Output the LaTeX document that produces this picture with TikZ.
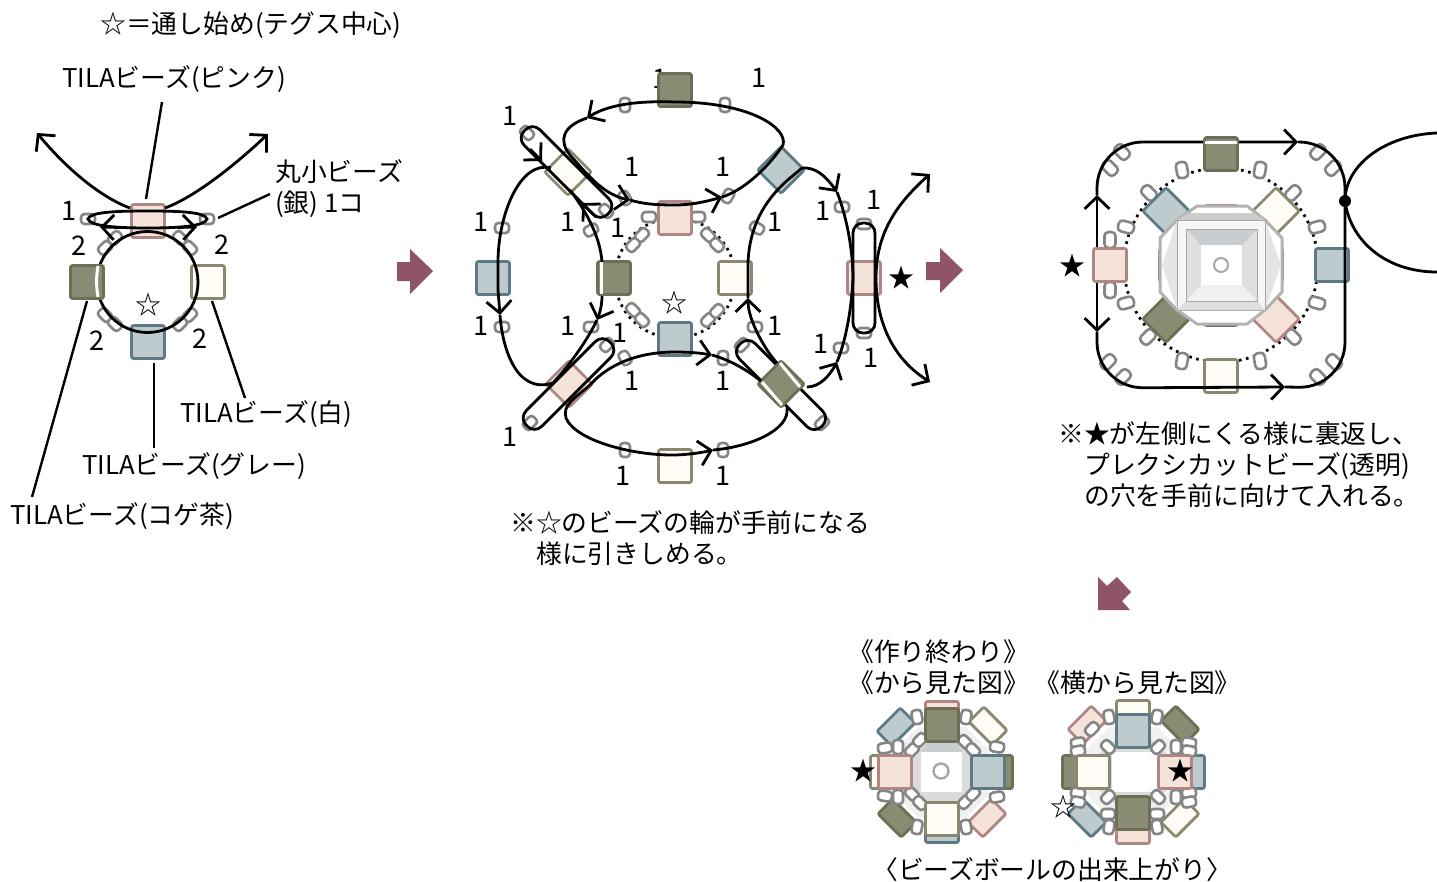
\documentclass[tikz,border=0pt]{standalone}
\usepackage{fontspec}
\setmainfont{Noto Sans CJK JP}
\usetikzlibrary{arrows.meta}
\definecolor{pinkfill}{HTML}{F5E3DA}
\definecolor{pinkline}{HTML}{AE8783}
\definecolor{olivefill}{HTML}{8A8B73}
\definecolor{oliveline}{HTML}{6C6E56}
\definecolor{whitefill}{HTML}{FFFDF5}
\definecolor{whiteline}{HTML}{8A8870}
\definecolor{greyfill}{HTML}{BDCACE}
\definecolor{greyline}{HTML}{5D7A84}
\definecolor{mauve}{HTML}{8F5468}
\definecolor{beadline}{HTML}{858585}
\tikzset{
tila/.style={rectangle, rounded corners=2pt, minimum size=33pt, inner sep=0pt, line width=2.7pt},
tilapink/.style={tila, fill=pinkfill, draw=pinkline},
tilaolive/.style={tila, fill=olivefill, draw=oliveline},
tilawhite/.style={tila, fill=whitefill, draw=whiteline},
tilagrey/.style={tila, fill=greyfill, draw=greyline},
flat/.style={minimum width=33pt, minimum height=21pt},
bead/.style={rectangle, rounded corners=3.5pt, minimum width=14pt, minimum height=10pt, inner sep=0pt, fill=white, draw=beadline, line width=2.6pt},
beadbig/.style={bead, minimum width=16pt, minimum height=11pt, rounded corners=4pt},
thread/.style={line width=2.8pt, black},
capsule/.style={rectangle, rounded corners=10pt, minimum height=22pt, inner sep=0pt, draw=black, line width=2.8pt},
dots/.style={line width=2.8pt, black, dash pattern=on 2.6pt off 4.6pt},
leader/.style={line width=2.4pt, black},
sheen/.style={line width=3pt, white},
label/.style={inner sep=0pt, anchor=west, align=left, yshift=-1.5pt, font=\fontsize{25.8}{31}\selectfont},
num/.style={inner sep=0pt, font=\fontsize{27}{30}\selectfont},
star/.style={inner sep=0pt, font=\fontsize{26}{30}\selectfont},
block/.style={fill=mauve, draw=none},
>={Straight Barb[length=12pt,width=25pt,line width=2.8pt]}
}
\begin{document}
\begin{tikzpicture}
\useasboundingbox (0pt, 0pt) rectangle (1437pt, -881pt);
% left: first ring
\node (tlstart) [label] at (100pt, -24pt) {☆＝通し始め(テグス中心)};
\node (tlpink) [label] at (62pt, -78pt) {TILAビーズ(ピンク)};
\node (tlsilver) [label] at (275pt, -187pt) {丸小ビーズ\\(銀) 1コ};
\node (tlwhite) [label] at (180pt, -413pt) {TILAビーズ(白)};
\node (tlgrey) [label] at (82pt, -465pt) {TILAビーズ(グレー)};
\node (tlolive) [label] at (10pt, -515pt) {TILAビーズ(コゲ茶)};
\node (a1) [num] at (69pt, -211pt) {1};
\node (a2) [num] at (79pt, -246pt) {2};
\node (a3) [num] at (222pt, -245pt) {2};
\node (a4) [num] at (97pt, -341pt) {2};
\node (a5) [num] at (200pt, -339pt) {2};
\node (astar) [star] at (148pt, -305pt) {☆};
\node (ab1) [bead, rotate=45] at (115pt, -238pt) {};
\node (ab2) [bead, rotate=45] at (105pt, -248pt) {};
\node (ab3) [bead, rotate=-45] at (180pt, -238pt) {};
\node (ab4) [bead, rotate=-45] at (190pt, -248pt) {};
\node (ab5) [bead, rotate=-45] at (105pt, -315pt) {};
\node (ab6) [bead, rotate=-45] at (115pt, -324pt) {};
\node (ab7) [bead, rotate=45] at (190pt, -315pt) {};
\node (ab8) [bead, rotate=45] at (180pt, -324pt) {};
\node (ab9) [bead] at (88pt, -219pt) {};
\node (ab10) [bead] at (207pt, -219pt) {};
\node (apink) [tilapink] at (148pt, -221pt) {};
\node (agrey) [tilagrey] at (148pt, -342pt) {};
\node (awhite) [tilawhite] at (208pt, -282pt) {};
\draw [thread] (147.5pt, -282pt) circle (50.5pt);
\node (aolive) [tilaolive] at (87pt, -282pt) {};
\draw [sheen] (98pt, -266pt) to [bend right=9] (98pt, -297pt);
\coordinate (ltip) at (37pt, -133pt);
\coordinate (rtip) at (268pt, -134pt);
\coordinate (lstart) at (130pt, -208pt);
\coordinate (rstart) at (165pt, -208pt);
\coordinate (lloop) at (100pt, -227pt);
\coordinate (rloop) at (197pt, -227pt);
\draw [thread, ->] (lstart) .. controls (100pt, -197pt) and (66pt, -168pt) .. (ltip);
\draw [thread, ->] (rstart) .. controls (195pt, -197pt) and (235pt, -165pt) .. (rtip);
\draw [thread] (148pt, -211pt) .. controls (180pt, -211pt) and (205pt, -212pt) .. (ab10.center) .. controls (205pt, -226pt) and (180pt, -228pt) .. (148pt, -228pt) .. controls (115pt, -228pt) and (90pt, -226pt) .. (ab9.center) .. controls (90pt, -212pt) and (115pt, -211pt) .. cycle;
\draw [thread, ->] (120pt, -227.5pt) -- (lloop);
\draw [thread, ->] (177pt, -227.5pt) -- (rloop);
\coordinate (ldpink) at (162pt, -102pt);
\coordinate (ldpinkb) at (146pt, -199pt);
\coordinate (ldsilver) at (270pt, -194pt);
\coordinate (ldsilverb) at (218pt, -218pt);
\coordinate (ldwhite) at (212pt, -301pt);
\coordinate (ldwhiteb) at (245pt, -398pt);
\coordinate (ldgrey) at (154pt, -363pt);
\coordinate (ldgreyb) at (154pt, -448pt);
\coordinate (ldolive) at (87pt, -301pt);
\coordinate (ldoliveb) at (32pt, -497pt);
\draw [leader] (ldpink) -- (ldpinkb);
\draw [leader] (ldsilver) -- (ldsilverb);
\draw [leader] (ldwhite) -- (ldwhiteb);
\draw [leader] (ldgrey) -- (ldgreyb);
\draw [leader] (ldolive) -- (ldoliveb);
\path [block] (397pt, -262pt) -- (410pt, -262pt) -- (410pt, -249pt) -- (433pt, -271pt) -- (410pt, -294pt) -- (410pt, -281pt) -- (397pt, -281pt) -- cycle;
% middle: two crossings
\node (b1) [num] at (660pt, -79pt) {1};
\node (b2) [num] at (759pt, -78pt) {1};
\node (b3) [num] at (510pt, -116pt) {1};
\node (b4) [num] at (632pt, -167pt) {1};
\node (b5) [num] at (723pt, -167pt) {1};
\node (b6) [num] at (481pt, -222pt) {1};
\node (b7) [num] at (568pt, -222pt) {1};
\node (b8) [num] at (618pt, -228pt) {1};
\node (b9) [num] at (775pt, -222pt) {1};
\node (b10) [num] at (823pt, -211pt) {1};
\node (b11) [num] at (874pt, -200pt) {1};
\node (b12) [num] at (481pt, -326pt) {1};
\node (b13) [num] at (568pt, -326pt) {1};
\node (b14) [num] at (620pt, -333pt) {1};
\node (b15) [num] at (775pt, -326pt) {1};
\node (b16) [num] at (821pt, -344pt) {1};
\node (b17) [num] at (871pt, -358pt) {1};
\node (b18) [num] at (510pt, -437pt) {1};
\node (b19) [num] at (632pt, -381pt) {1};
\node (b20) [num] at (723pt, -381pt) {1};
\node (b21) [num] at (623pt, -476pt) {1};
\node (b22) [num] at (723pt, -476pt) {1};
\node (bstar) [star] at (674pt, -303pt) {☆};
\node (bstarb) [star] at (901pt, -278pt) {★};
\node (tlpull) [label] at (510pt, -537pt) {※☆のビーズの輪が手前になる\\\hspace*{26pt}様に引きしめる。};
\draw [dots] (675pt, -278pt) circle (60pt);
\node (bb1) [bead, rotate=90] at (625pt, -105pt) {};
\node (bb2) [bead, rotate=90] at (725pt, -105pt) {};
\node (bb3) [bead, rotate=-45] at (527pt, -133pt) {};
\node (bb4) [bead, rotate=-45] at (606pt, -211pt) {};
\node (bb5) [bead, rotate=-60] at (625pt, -198pt) {};
\node (bb6) [bead, rotate=60] at (728pt, -196pt) {};
\node (bb7) [bead] at (502pt, -228pt) {};
\node (bb8) [bead, rotate=30] at (591pt, -230pt) {};
\node (bb9) [bead, rotate=-30] at (757pt, -228pt) {};
\node (bb10) [bead] at (842pt, -207pt) {};
\node (bb11) [bead] at (864pt, -224pt) {};
\node (bb12) [bead] at (649pt, -217pt) {};
\node (bb13) [bead] at (698pt, -217pt) {};
\node (bb14) [bead, rotate=45] at (642pt, -235pt) {};
\node (bb15) [bead, rotate=45] at (633pt, -245pt) {};
\node (bb16) [bead, rotate=-45] at (708pt, -235pt) {};
\node (bb17) [bead, rotate=-45] at (717pt, -245pt) {};
\node (bb18) [bead, rotate=-45] at (633pt, -310pt) {};
\node (bb19) [bead, rotate=-45] at (642pt, -320pt) {};
\node (bb20) [bead, rotate=45] at (708pt, -320pt) {};
\node (bb21) [bead, rotate=45] at (717pt, -311pt) {};
\node (bb22) [bead] at (502pt, -327pt) {};
\node (bb23) [bead] at (591pt, -327pt) {};
\node (bb24) [bead, rotate=45] at (607pt, -345pt) {};
\node (bb25) [bead, rotate=45] at (530pt, -423pt) {};
\node (bb26) [bead, rotate=-60] at (625pt, -358pt) {};
\node (bb27) [bead, rotate=90] at (723pt, -358pt) {};
\node (bb28) [bead] at (755pt, -327pt) {};
\node (bb29) [bead, rotate=45] at (742pt, -345pt) {};
\node (bb30) [bead] at (841pt, -348pt) {};
\node (bb31) [bead] at (864pt, -333pt) {};
\node (bb32) [bead, rotate=45] at (822pt, -423pt) {};
\node (bb33) [bead, rotate=90] at (625pt, -450pt) {};
\node (bb34) [bead, rotate=90] at (723pt, -450pt) {};
\node (btop) [tilaolive] at (675pt, -90pt) {};
\node (bcpink) [tilapink] at (675pt, -218pt) {};
\node (bcolive) [tilaolive] at (614pt, -278pt) {};
\node (bcwhite) [tilawhite] at (735pt, -278pt) {};
\node (bcgrey) [tilagrey] at (675pt, -339pt) {};
\node (bleft) [tilagrey] at (493pt, -278pt) {};
\node (bright) [tilapink] at (864pt, -278pt) {};
\node (bbot) [tilawhite] at (675pt, -466pt) {};
\node (bulwhite) [tilawhite, rotate=45] at (568pt, -172pt) {};
\node (bllpink) [tilapink, rotate=45] at (569pt, -384pt) {};
\node (burgrey) [tilagrey, rotate=45] at (781pt, -170pt) {};
\node (capul) [capsule, rotate=-45, minimum width=118pt] at (566.5pt, -172pt) {};
\node (capll) [capsule, rotate=45, minimum width=118pt] at (568.5pt, -384pt) {};
\node (caplr) [capsule, rotate=-45, minimum width=116pt] at (781pt, -385pt) {};
\node (capr) [capsule, rotate=90, minimum width=110pt] at (864pt, -278pt) {};
\node (blrolive) [tilaolive, rotate=45] at (781pt, -384pt) {};
\draw [sheen] (762pt, -382pt) -- (782pt, -405pt);
\draw [sheen] (780pt, -363pt) -- (800pt, -387pt);
\draw [sheen] (601pt, -262pt) -- (601pt, -294pt);
\coordinate (tipa) at (587pt, -118pt);
\coordinate (tipb) at (630pt, -200pt);
\coordinate (tipc) at (722pt, -197pt);
\coordinate (tipd) at (837pt, -192pt);
\coordinate (tipe) at (748pt, -298pt);
\coordinate (tipf) at (837pt, -362pt);
\coordinate (tipg) at (712pt, -355pt);
\coordinate (tiph) at (713pt, -450pt);
\coordinate (tipi) at (597pt, -320pt);
\coordinate (tipj) at (500pt, -315pt);
\coordinate (tipk) at (542pt, -161pt);
\coordinate (tipl) at (582pt, -203pt);
\coordinate (tipm) at (930pt, -174pt);
\coordinate (tipn) at (930pt, -382pt);
% top loop
\draw [thread, ->] (675pt, -205pt) .. controls (690pt, -205pt) and (705pt, -202pt) .. (tipc);
\draw [thread] (tipc) .. controls (745pt, -190pt) and (770pt, -165pt) .. (783pt, -145pt) .. controls (788pt, -128pt) and (750pt, -102pt) .. (675pt, -102pt);
\draw [thread, ->] (675pt, -102pt) .. controls (650pt, -101pt) and (612pt, -102pt) .. (tipa);
\draw [thread, ->] (tipa) .. controls (563pt, -126pt) and (558pt, -140pt) .. (570pt, -155pt) .. controls (590pt, -178pt) and (605pt, -195pt) .. (tipb);
\draw [thread] (tipb) .. controls (640pt, -203pt) and (650pt, -205pt) .. (675pt, -205pt);
% left arcs
\draw [thread] (498pt, -290pt) -- (498pt, -262pt) .. controls (498pt, -215pt) and (520pt, -160pt) .. (551pt, -168pt);
\draw [thread, ->] (530pt, -149pt) -- (tipk);
\draw [thread, ->] (596pt, -217pt) -- (tipl);
\draw [thread] (570pt, -190pt) .. controls (585pt, -210pt) and (600pt, -235pt) .. (602pt, -262pt);
\draw [thread, ->] (602pt, -296pt) .. controls (602pt, -305pt) and (600pt, -312pt) .. (tipi);
\draw [thread] (tipi) .. controls (585pt, -345pt) and (565pt, -370pt) .. (553pt, -383pt);
\draw [thread, ->] (498pt, -290pt) -- (tipj);
\draw [thread] (tipj) .. controls (502pt, -345pt) and (515pt, -395pt) .. (553pt, -383pt);
% bottom loop
\draw [thread, ->] (675pt, -352pt) .. controls (690pt, -352pt) and (700pt, -353pt) .. (tipg);
\draw [thread] (tipg) .. controls (730pt, -360pt) and (747pt, -370pt) .. (761pt, -381pt);
\draw [thread] (675pt, -352pt) .. controls (630pt, -352pt) and (603pt, -370pt) .. (590pt, -385pt) .. controls (575pt, -398pt) and (562pt, -405pt) .. (566pt, -418pt) .. controls (575pt, -440pt) and (630pt, -455pt) .. (672pt, -455pt);
\draw [thread, ->] (672pt, -455pt) .. controls (685pt, -455pt) and (700pt, -453pt) .. (tiph);
\draw [thread] (tiph) .. controls (750pt, -447pt) and (790pt, -430pt) .. (787pt, -408pt);
% right arcs
\draw [thread, ->] (807pt, -387pt) .. controls (820pt, -387pt) and (830pt, -375pt) .. (tipf);
\draw [thread] (tipf) .. controls (848pt, -335pt) and (852pt, -300pt) .. (853pt, -278pt) .. controls (853pt, -255pt) and (848pt, -220pt) .. (tipd);
\draw [thread, <-] (tipd) .. controls (825pt, -175pt) and (815pt, -167pt) .. (802pt, -168pt);
\draw [thread] (802pt, -168pt) -- (790pt, -178pt) .. controls (770pt, -195pt) and (750pt, -220pt) .. (748pt, -262pt) -- (tipe);
\draw [thread, <-] (tipe) .. controls (748pt, -320pt) and (765pt, -350pt) .. (777pt, -363pt);
\draw [thread, ->] (876pt, -278pt) .. controls (876pt, -235pt) and (895pt, -205pt) .. (tipm);
\draw [thread, ->] (876pt, -278pt) .. controls (876pt, -325pt) and (895pt, -360pt) .. (tipn);
\path [block] (926pt, -262pt) -- (940pt, -262pt) -- (940pt, -248pt) -- (963pt, -270pt) -- (940pt, -293pt) -- (940pt, -280pt) -- (926pt, -280pt) -- cycle;
% right: after turning over
\node (cstar) [star] at (1072pt, -266pt) {★};
\node (tlturn) [label] at (1058pt, -463pt) {※★が左側にくる様に裏返し、\\\hspace*{26pt}プレクシカットビーズ(透明)\\\hspace*{26pt}の穴を手前に向けて入れる。};
\draw [dots] (1221pt, -265pt) circle (97pt);
\node (cb1) [beadbig, rotate=100] at (1182pt, -170pt) {};
\node (cb2) [beadbig, rotate=80] at (1260pt, -170pt) {};
\node (cb3) [beadbig, rotate=-45] at (1149pt, -193pt) {};
\node (cb4) [beadbig, rotate=45] at (1293pt, -193pt) {};
\node (cb5) [beadbig, rotate=-15] at (1126pt, -227pt) {};
\node (cb6) [beadbig, rotate=15] at (1317pt, -227pt) {};
\node (cb7) [beadbig, rotate=90] at (1110pt, -240pt) {};
\node (cb8) [beadbig, rotate=90] at (1110pt, -290pt) {};
\node (cb9) [beadbig, rotate=15] at (1126pt, -303pt) {};
\node (cb10) [beadbig, rotate=-15] at (1317pt, -303pt) {};
\node (cb11) [beadbig, rotate=45] at (1148pt, -337pt) {};
\node (cb12) [beadbig, rotate=-45] at (1293pt, -337pt) {};
\node (cb13) [beadbig, rotate=80] at (1182pt, -361pt) {};
\node (cb14) [beadbig, rotate=100] at (1260pt, -361pt) {};
\node (cb15) [beadbig, rotate=-45] at (1122pt, -152pt) {};
\node (cb16) [beadbig, rotate=-45] at (1110pt, -168pt) {};
\node (cb17) [beadbig, rotate=45] at (1318pt, -152pt) {};
\node (cb18) [beadbig, rotate=45] at (1333pt, -168pt) {};
\node (cb19) [beadbig, rotate=45] at (1108pt, -362pt) {};
\node (cb20) [beadbig, rotate=45] at (1123pt, -377pt) {};
\node (cb21) [beadbig, rotate=-45] at (1318pt, -377pt) {};
\node (cb22) [beadbig, rotate=-45] at (1334pt, -362pt) {};
\node (csliverp) [tilapink] at (1221pt, -222pt) {};
\node (cslivero) [tilaolive] at (1266pt, -265pt) {};
\node (csliverg) [tilagrey] at (1221pt, -309pt) {};
\node (cslivew) [tilawhite] at (1176pt, -265pt) {};
\node (cdulgrey) [tilagrey, rotate=45] at (1166pt, -211pt) {};
\node (cdurwhite) [tilawhite, rotate=45] at (1276pt, -211pt) {};
\node (cdllolive) [tilaolive, rotate=45] at (1166pt, -319pt) {};
\node (cdlrpink) [tilapink, rotate=45] at (1276pt, -319pt) {};
\node (cright) [tilagrey] at (1332pt, -265pt) {};
\node (cbot) [tilawhite] at (1221pt, -376pt) {};
\coordinate (cdot) at (1345pt, -201pt);
\coordinate (tipo) at (1097pt, -195pt);
\coordinate (tipp) at (1298pt, -142pt);
\coordinate (tipq) at (1097pt, -332pt);
\coordinate (tipr) at (1285pt, -387pt);
\draw [thread, ->] (1097pt, -265pt) -- (tipo);
\draw [thread, ->] (1097pt, -265pt) -- (tipq);
\draw [thread, ->, rounded corners=46pt] (tipo) -- (1097pt, -142pt) -- (tipp);
\draw [thread, rounded corners=46pt] (tipp) -- (1345pt, -142pt) -- (cdot);
\draw [thread, ->, rounded corners=46pt] (tipq) -- (1097pt, -388pt) -- (tipr);
\draw [thread, rounded corners=46pt] (tipr) -- (1345pt, -388pt) -- (cdot);
\node (cleft) [tilapink] at (1110pt, -265pt) {};
\node (ctop) [tilaolive] at (1221pt, -154pt) {};
\draw [sheen] (1205pt, -142pt) -- (1237pt, -142pt);
\draw [thread] (1437pt, -133pt) .. controls (1385pt, -135pt) and (1345pt, -165pt) .. (cdot);
\draw [thread] (cdot) .. controls (1350pt, -240pt) and (1385pt, -272pt) .. (1437pt, -272pt);
\fill (cdot) circle (6pt);
% cut crystal
\filldraw [fill=white, draw=gray!60, line width=3pt, line join=round] (1197pt, -206pt) -- (1247pt, -206pt) -- (1265pt, -220pt) -- (1282pt, -238pt) -- (1282pt, -292pt) -- (1265pt, -310pt) -- (1247pt, -324pt) -- (1197pt, -324pt) -- (1177pt, -310pt) -- (1160pt, -292pt) -- (1160pt, -238pt) -- (1177pt, -220pt) -- cycle;
\fill [gray!40] (1177pt, -220pt) -- (1188pt, -213pt) -- (1253pt, -213pt) -- (1265pt, -220pt) -- cycle;
\fill [gray!20] (1177pt, -220pt) -- (1177pt, -310pt) -- (1162pt, -265pt) -- cycle;
\fill [gray!20] (1265pt, -220pt) -- (1265pt, -310pt) -- (1281pt, -265pt) -- cycle;
\filldraw [fill=gray!7, draw=gray!70, line width=0.8pt] (1177pt, -220pt) rectangle (1265pt, -310pt);
\fill [gray!25] (1177pt, -310pt) -- (1186pt, -301pt) -- (1257pt, -301pt) -- (1265pt, -310pt) -- cycle;
\fill [gray!25] (1186pt, -229pt) rectangle (1257pt, -301pt);
\fill [greyfill!60!gray!60] (1186pt, -229pt) -- (1257pt, -229pt) -- (1242pt, -245pt) -- (1201pt, -245pt) -- cycle;
\fill [gray!12] (1186pt, -301pt) -- (1257pt, -301pt) -- (1242pt, -285pt) -- (1201pt, -285pt) -- cycle;
\draw [gray!70, line width=0.8pt] (1186pt, -229pt) rectangle (1257pt, -301pt);
\fill [white] (1201pt, -245pt) rectangle (1242pt, -285pt);
\draw [gray!70, line width=2pt] (1221pt, -265pt) circle (7pt);
\path [block] (1098pt, -577pt) -- (1107pt, -586pt) -- (1117pt, -577pt) -- (1131pt, -592pt) -- (1122pt, -601pt) -- (1130pt, -610pt) -- (1098pt, -610pt) -- cycle;
% bottom: finished ball, two views
\node (tlend) [label] at (848pt, -666pt) {《作り終わり》\\《から見た図》};
\node (tlside) [label] at (1034pt, -681pt) {《横から見た図》};
\node (tlball) [label] at (872pt, -868pt) {〈ビーズボールの出来上がり〉};
\fill [gray!12] (918pt, -727pt) -- (966pt, -727pt) -- (988pt, -749pt) -- (988pt, -795pt) -- (966pt, -818pt) -- (918pt, -818pt) -- (896pt, -795pt) -- (896pt, -749pt) -- cycle;
\fill [gray!28] (927pt, -743pt) -- (957pt, -743pt) -- (970pt, -756pt) -- (970pt, -788pt) -- (957pt, -802pt) -- (927pt, -802pt) -- (913pt, -788pt) -- (913pt, -756pt) -- cycle;
\fill [greyfill!60!gray!60] (927pt, -743pt) -- (957pt, -743pt) -- (962pt, -752pt) -- (921pt, -752pt) -- cycle;
\fill [white] (921pt, -752pt) rectangle (962pt, -792pt);
\draw [gray!70, line width=2.4pt] (941pt, -771pt) circle (7.5pt);
\node (dbpink) [tilapink] at (942pt, -718pt) {};
\node (dbgrey) [tilagrey] at (942pt, -826pt) {};
\node (dbwhite) [tilawhite] at (887pt, -772pt) {};
\node (dbolive) [tilaolive] at (996pt, -772pt) {};
\node (ddgrey) [tilagrey, flat, rotate=45] at (896pt, -727pt) {};
\node (ddwhite) [tilawhite, flat, rotate=-45] at (988pt, -726pt) {};
\node (ddolive) [tilaolive, flat, rotate=-45] at (897pt, -818pt) {};
\node (ddpink) [tilapink, flat, rotate=45] at (987pt, -818pt) {};
\node (db1) [bead, rotate=100] at (917pt, -717pt) {};
\node (db2) [bead, rotate=80] at (966pt, -717pt) {};
\node (db3) [bead, rotate=45] at (912pt, -750pt) {};
\node (db4) [bead, rotate=45] at (920pt, -740pt) {};
\node (db5) [bead, rotate=-45] at (965pt, -742pt) {};
\node (db6) [bead, rotate=-45] at (973pt, -750pt) {};
\node (db7) [bead, rotate=10] at (885pt, -748pt) {};
\node (db8) [bead, rotate=90] at (898pt, -747pt) {};
\node (db9) [bead, rotate=-10] at (997pt, -747pt) {};
\node (db10) [bead, rotate=-10] at (885pt, -796pt) {};
\node (db11) [bead, rotate=90] at (898pt, -797pt) {};
\node (db12) [bead, rotate=10] at (997pt, -797pt) {};
\node (db13) [bead, rotate=-45] at (912pt, -794pt) {};
\node (db14) [bead, rotate=-45] at (920pt, -803pt) {};
\node (db15) [bead, rotate=45] at (965pt, -802pt) {};
\node (db16) [bead, rotate=45] at (973pt, -794pt) {};
\node (db17) [bead, rotate=80] at (917pt, -827pt) {};
\node (db18) [bead, rotate=100] at (966pt, -827pt) {};
\node (dolive) [tilaolive] at (942pt, -725pt) {};
\node (dwhite) [tilawhite] at (942pt, -819pt) {};
\node (dpink) [tilapink] at (895pt, -772pt) {};
\node (dgrey) [tilagrey] at (988pt, -772pt) {};
\node (dstar) [star] at (863pt, -771pt) {★};
\fill [gray!12] (1109pt, -727pt) -- (1157pt, -727pt) -- (1180pt, -749pt) -- (1180pt, -795pt) -- (1157pt, -818pt) -- (1109pt, -818pt) -- (1087pt, -795pt) -- (1087pt, -749pt) -- cycle;
\fill [gray!28] (1118pt, -737pt) -- (1148pt, -737pt) -- (1169pt, -756pt) -- (1169pt, -788pt) -- (1148pt, -807pt) -- (1118pt, -807pt) -- (1097pt, -788pt) -- (1097pt, -756pt) -- cycle;
\fill [white] (1112pt, -752pt) rectangle (1157pt, -792pt);
\node (ebwhite) [tilawhite] at (1133pt, -717pt) {};
\node (ebpink) [tilapink] at (1133pt, -827pt) {};
\node (ebolive) [tilaolive] at (1079pt, -772pt) {};
\node (ebgrey) [tilagrey] at (1188pt, -772pt) {};
\node (eepink) [tilapink, flat, rotate=45] at (1087pt, -725pt) {};
\node (eeolive) [tilaolive, flat, rotate=-45] at (1180pt, -725pt) {};
\node (eegrey) [tilagrey, flat, rotate=-45] at (1087pt, -818pt) {};
\node (eewhite) [tilawhite, flat, rotate=45] at (1180pt, -818pt) {};
\node (eb1) [bead, rotate=45] at (1092pt, -729pt) {};
\node (eb2) [bead, rotate=100] at (1109pt, -717pt) {};
\node (eb3) [bead, rotate=80] at (1157pt, -717pt) {};
\node (eb4) [bead, rotate=10] at (1078pt, -743pt) {};
\node (eb5) [bead, rotate=10] at (1078pt, -751pt) {};
\node (eb6) [bead, rotate=-45] at (1108pt, -747pt) {};
\node (eb7) [bead, rotate=45] at (1158pt, -747pt) {};
\node (eb8) [bead, rotate=90] at (1176pt, -747pt) {};
\node (eb9) [bead, rotate=-10] at (1189pt, -743pt) {};
\node (eb10) [bead, rotate=-10] at (1189pt, -751pt) {};
\node (eb11) [bead, rotate=-10] at (1078pt, -793pt) {};
\node (eb12) [bead, rotate=-10] at (1078pt, -802pt) {};
\node (eb13) [bead, rotate=45] at (1108pt, -797pt) {};
\node (eb14) [bead, rotate=-45] at (1158pt, -797pt) {};
\node (eb15) [bead, rotate=90] at (1176pt, -797pt) {};
\node (eb16) [bead, rotate=10] at (1189pt, -793pt) {};
\node (eb17) [bead, rotate=10] at (1189pt, -802pt) {};
\node (eb18) [bead] at (1108pt, -814pt) {};
\node (eb19) [bead, rotate=80] at (1109pt, -827pt) {};
\node (eb20) [bead] at (1157pt, -814pt) {};
\node (eb21) [bead, rotate=100] at (1157pt, -827pt) {};
\node (egrey) [tilagrey] at (1133pt, -731pt) {};
\node (eolive) [tilaolive] at (1133pt, -813pt) {};
\node (ewhite) [tilawhite] at (1093pt, -772pt) {};
\node (epink) [tilapink] at (1175pt, -772pt) {};
\node (estar) [star] at (1180pt, -771pt) {★};
\node (estarb) [star] at (1063pt, -807pt) {☆};
\end{tikzpicture}
\end{document}
